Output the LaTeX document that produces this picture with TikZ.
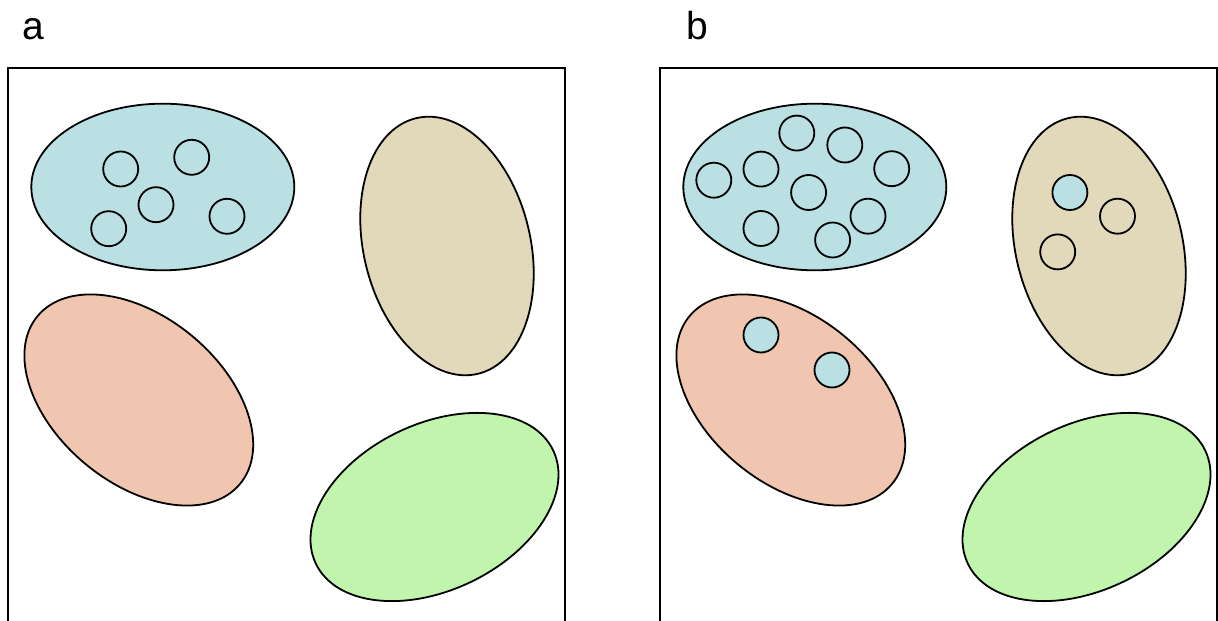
\documentclass[tikz,border=0pt]{standalone}
\usepackage{fontspec}
\setmainfont{Liberation Sans}
\definecolor{cblue}{HTML}{BAE0E3}
\definecolor{ctan}{HTML}{E2D9BB}
\definecolor{csalmon}{HTML}{F0C6B0}
\definecolor{cgreen}{HTML}{C1F4AC}
\begin{document}
\begin{tikzpicture}[x=1pt,y=1pt,
  frame/.style={draw=black, line width=2pt},
  blob/.style={draw=black, line width=1.8pt},
  cell/.style={circle, draw=black, line width=1.8pt, minimum size=35pt, inner sep=0pt},
  lbl/.style={anchor=base, font=\fontsize{39}{40}\selectfont, inner sep=0pt}]
\useasboundingbox (0,0) rectangle (1218,621);
% labels
\node[lbl] (la) at (33.7,581) {a};
\node[lbl] (lb) at (697,581) {b};
% frames
\draw[frame] (7.7,-10) -- (7.7,553) -- (565.3,553) -- (565.3,-10);
\draw[frame] (660,-10) -- (660,553) -- (1217,553) -- (1217,-10);
% panel a ellipses
\draw[blob, fill=cblue] (162.8,434) ellipse [x radius=131.5, y radius=83.3];
\draw[blob, fill=ctan, rotate around={103.7:(447,375)}] (447,375) ellipse [x radius=131.5, y radius=83.3];
\draw[blob, fill=csalmon, rotate around={-39.6:(138.8,221)}] (138.8,221) ellipse [x radius=131.5, y radius=83.3];
\draw[blob, fill=cgreen, rotate around={25.5:(434.5,114)}] (434.5,114) ellipse [x radius=131.5, y radius=83.3];
% panel b ellipses
\draw[blob, fill=cblue] (814.8,434) ellipse [x radius=131.5, y radius=83.3];
\draw[blob, fill=ctan, rotate around={103.7:(1099,375)}] (1099,375) ellipse [x radius=131.5, y radius=83.3];
\draw[blob, fill=csalmon, rotate around={-39.6:(790.8,221)}] (790.8,221) ellipse [x radius=131.5, y radius=83.3];
\draw[blob, fill=cgreen, rotate around={25.5:(1086.5,114)}] (1086.5,114) ellipse [x radius=131.5, y radius=83.3];
% panel a cells
\node[cell, fill=cblue] (a1) at (120.7,452) {};
\node[cell, fill=cblue] (a2) at (191.7,463.7) {};
\node[cell, fill=cblue] (a3) at (156,416.3) {};
\node[cell, fill=cblue] (a4) at (108.7,392.3) {};
\node[cell, fill=cblue] (a5) at (227,404.7) {};
% panel b cells in blue
\node[cell, fill=cblue] (b1) at (713.8,440.8) {};
\node[cell, fill=cblue] (b2) at (761,451.9) {};
\node[cell, fill=cblue] (b3) at (796.8,487.9) {};
\node[cell, fill=cblue] (b4) at (844.8,476) {};
\node[cell, fill=cblue] (b5) at (891.7,452.3) {};
\node[cell, fill=cblue] (b6) at (808.6,428.5) {};
\node[cell, fill=cblue] (b7) at (868,404.8) {};
\node[cell, fill=cblue] (b8) at (761,392.5) {};
\node[cell, fill=cblue] (b9) at (832.6,381) {};
% panel b cells in tan
\node[cell, fill=cblue] (t1) at (1069.9,428.5) {};
\node[cell, fill=ctan] (t2) at (1117.5,404.8) {};
\node[cell, fill=ctan] (t3) at (1057.7,369.1) {};
% panel b cells in salmon
\node[cell, fill=cblue] (s1) at (761,286) {};
\node[cell, fill=cblue] (s2) at (832,251) {};
\end{tikzpicture}
\end{document}
